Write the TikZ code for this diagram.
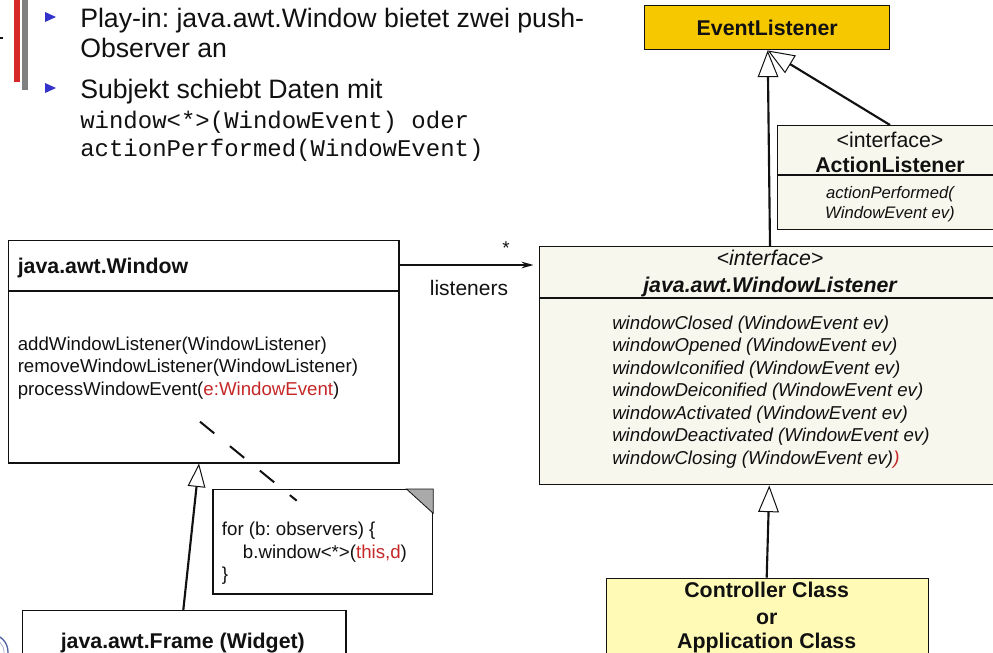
\documentclass[tikz,border=0pt]{standalone}
\usepackage{fontspec}
\setmainfont{Liberation Sans}
\setmonofont{Liberation Mono}
\usetikzlibrary{arrows.meta,calc}
\frenchspacing

\definecolor{ink}{HTML}{111111}
\definecolor{gold}{HTML}{F5C800}
\definecolor{ifacefill}{HTML}{F7F7EE}
\definecolor{ctlfill}{HTML}{FFFAB5}
\definecolor{codered}{HTML}{C62828}
\definecolor{bulletblue}{HTML}{3333CC}
\definecolor{barred}{HTML}{D62828}
\definecolor{bargray}{HTML}{808080}
\definecolor{foldgray}{HTML}{AAAAAA}
\definecolor{logoblue}{HTML}{5060A0}

\tikzset{
  umlbox/.style={draw=ink, line width=1.1pt, rectangle, inner sep=0pt, anchor=north west},
  txt/.style={inner sep=0pt, text=ink},
  bullettxt/.style={txt, anchor=base west, font=\fontsize{20}{24}\selectfont},
  monotxt/.style={txt, anchor=base west, font=\ttfamily\fontsize{18}{22}\selectfont},
  head/.style={txt, anchor=base, font=\bfseries\fontsize{16}{19}\selectfont},
  meth/.style={txt, anchor=base west, font=\fontsize{14}{17}\selectfont},
  imeth/.style={txt, anchor=base west, font=\itshape\fontsize{14}{17}\selectfont},
  divider/.style={draw=ink, line width=1.1pt},
  gen/.style={draw=ink, line width=1.6pt, -{Triangle[fill=white, length=20pt, width=15.5pt, line width=0.75pt]}},
  gensmall/.style={draw=ink, line width=1.6pt, -{Triangle[fill=white, length=17.6pt, width=13.3pt, line width=0.75pt]}},
  assoc/.style={draw=ink, line width=1pt, -{Stealth[length=9pt, width=5pt]}},
  notelink/.style={draw=ink, line width=1.5pt, dash pattern=on 13.8pt off 15.2pt},
}

\begin{document}
\begin{tikzpicture}[x=0.75pt, y=-0.75pt]
\useasboundingbox (0,0) rectangle (993,653);
\clip (0,0) rectangle (993,653);

% side bars and tick
\fill[barred] (14,0) rectangle (20,82);
\fill[bargray] (22,0) rectangle (27.5,90);
\draw[ink, line width=0.8pt] (0,38) -- (3,38);

% logo fragment, bottom left
\draw[logoblue, line width=1pt] (-10,652) circle[radius=13.5pt];
\draw[logoblue!50, line width=0.6pt] (-10,652) circle[radius=10.5pt];

% bullet list
\fill[bulletblue] (45,12) -- (56,17) -- (45,22) -- cycle;
\fill[bulletblue] (45,83) -- (56,88) -- (45,93) -- cycle;
\node[bullettxt] (b1a) at (80,27) {Play-in: java.awt.Window bietet zwei push-};
\node[bullettxt] (b1b) at (80,57) {Observer an};
\node[bullettxt] (b2a) at (80,98) {Subjekt schiebt Daten mit};
\node[monotxt] (b2b) at (80,128) {window<*>(WindowEvent) oder};
\node[monotxt] (b2c) at (80,156) {actionPerformed(WindowEvent)};

% EventListener
\node[umlbox, fill=gold, minimum width=183.75pt, minimum height=33pt] (ev) at (644,5) {};
\node[head, anchor=center] (evt) at (ev.center) {EventListener};

% ActionListener
\node[umlbox, fill=ifacefill, minimum width=169.5pt, minimum height=78pt] (al) at (777,125) {};
\draw[divider] ($(al.north west)+(0,50)$) -- ($(al.north east)+(0,50)$);
\node[txt, anchor=base, font=\fontsize{16}{19}\selectfont] (alst) at (890,147) {<interface>};
\node[head] (alname) at (890,172) {ActionListener};
\node[txt, anchor=base, font=\itshape\fontsize{12.5}{15}\selectfont] (alm1) at (890,198) {actionPerformed(};
\node[txt, anchor=base, font=\itshape\fontsize{12.5}{15}\selectfont] (alm2) at (890,218) {WindowEvent ev)};

% WindowListener
\node[umlbox, fill=ifacefill, minimum width=347.25pt, minimum height=178.5pt] (wl) at (538.5,246) {};
\draw[divider] ($(wl.north west)+(0,52)$) -- ($(wl.north east)+(0,52)$);
\node[txt, anchor=base, font=\itshape\fontsize{16}{19}\selectfont] (wlst) at (770,265) {<interface>};
\node[txt, anchor=base, font=\bfseries\itshape\fontsize{16}{19}\selectfont] (wlname) at (770,292) {java.awt.WindowListener};
\node[imeth] (wm1) at (612,329) {windowClosed (WindowEvent ev)};
\node[imeth] (wm2) at (612,351.5) {windowOpened (WindowEvent ev)};
\node[imeth] (wm3) at (612,374) {windowIconified (WindowEvent ev)};
\node[imeth] (wm4) at (612,396.5) {windowDeiconified (WindowEvent ev)};
\node[imeth] (wm5) at (612,419) {windowActivated (WindowEvent ev)};
\node[imeth] (wm6) at (612,441.5) {windowDeactivated (WindowEvent ev)};
\node[imeth] (wm7) at (612,464) {windowClosing (WindowEvent ev)\textcolor{codered}{)}};

% java.awt.Window
\node[umlbox, fill=white, minimum width=293.1pt, minimum height=166.9pt] (win) at (7.6,239.5) {};
\draw[divider] ($(win.north west)+(0,51.5)$) -- ($(win.north east)+(0,51.5)$);
\node[head, anchor=base west] (wint) at (17.5,273) {java.awt.Window};
\node[meth] (mm1) at (17.5,350) {addWindowListener(WindowListener)};
\node[meth] (mm2) at (17.5,372.5) {removeWindowListener(WindowListener)};
\node[meth] (mm3) at (17.5,395) {processWindowEvent(\textcolor{codered}{e:WindowEvent})};

% association to the listeners
\draw[assoc] ($(win.north east)+(0,25.5)$) -- ($(wl.north west)+(-5,19)$);
\node[txt, font=\fontsize{14}{17}\selectfont] (mult) at (506,248) {*};
\node[txt, anchor=base, font=\fontsize{15.75}{19}\selectfont] (role) at (469,295) {listeners};

% note with folded corner
\node[umlbox, fill=white, minimum width=164.55pt, minimum height=78.2pt] (note) at (212.3,489) {};
\filldraw[fill=foldgray, draw=ink, line width=0.6pt]
  ($(note.north east)+(-26.7,0)$) -- (note.north east) -- ($(note.north east)+(0,24.3)$) -- cycle;
\node[meth] (n1) at (221.7,535.7) {for (b: observers) \{};
\node[meth] (n2) at (242.7,558.2) {b.window<*>(\textcolor{codered}{this,d})};
\node[meth] (n3) at (221.7,580.7) {\}};
\coordinate (nA) at (200,421.7);
\coordinate (nB) at (296.7,500.7);
\draw[notelink] (nA) -- (nB);

% java.awt.Frame
\node[umlbox, fill=white, minimum width=242.5pt, minimum height=52.5pt] (fr) at (21.7,610) {};
\node[head] (frt) at (182.8,648.3) {java.awt.Frame (Widget)};
\draw[gensmall] ($(fr.north west)+(161.6,0)$) -- ($(win.south west)+(191.4,0)$);

% Controller / Application class
\node[umlbox, fill=ctlfill, minimum width=241.3pt, minimum height=65pt] (ctl) at (606,577.7) {};
\node[head] (c1) at (766.7,597.7) {Controller Class};
\node[head] (c2) at (766.7,624) {or};
\node[head] (c3) at (766.7,648.3) {Application Class};
\draw[gen] ($(ctl.north west)+(160.7,0)$) -- ($(wl.south west)+(230.8,0)$);

% generalizations to EventListener
\draw[gen] ($(wl.north west)+(231.5,0)$) -- ($(ev.south west)+(123.7,0)$);
\draw[gen] ($(al.north west)+(113,0)$) -- ($(ev.south west)+(123.7,0)$);
\end{tikzpicture}
\end{document}
